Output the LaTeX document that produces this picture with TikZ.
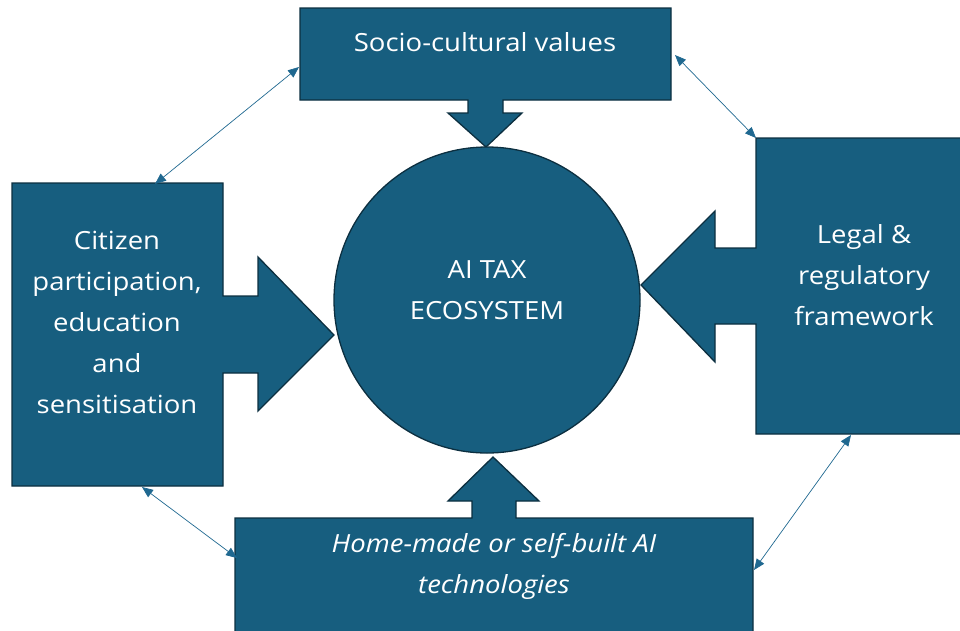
\documentclass[tikz,border=0pt]{standalone}
\usepackage{fontspec}
\setmainfont{Open Sans}[FakeStretch=1.1]
\usetikzlibrary{arrows.meta}
\definecolor{fillblue}{HTML}{175E7F}
\definecolor{edgeblue}{HTML}{0C2F40}
\definecolor{linkblue}{HTML}{1F6890}
\tikzset{
  shapebox/.style={fill=fillblue,draw=edgeblue,line width=1.3pt,line join=miter},
  label/.style={text=white,font=\fontsize{25}{41}\selectfont,align=center,inner sep=0pt},
  link/.style={draw=linkblue,line width=0.7pt,{Triangle[length=11pt,width=9pt]}-{Triangle[length=11pt,width=9pt]}}
}
\begin{document}
\begin{tikzpicture}[x=1pt,y=-1pt]
\useasboundingbox (0,0) rectangle (960,630);
% top shape
\draw[shapebox] (300,8) -- (671,8) -- (671,100) -- (503,100) -- (503,113) -- (522,113) -- (486,147) -- (448,113) -- (468,113) -- (468,100) -- (300,100) -- cycle;
% left shape
\draw[shapebox] (12,183) -- (223,183) -- (223,296) -- (258,296) -- (258,257) -- (334,335) -- (258,411) -- (258,373) -- (223,373) -- (223,486) -- (12,486) -- cycle;
% right shape
\draw[shapebox] (756,138) -- (963,138) -- (963,434) -- (756,434) -- (756,324) -- (715,324) -- (715,362) -- (641,285) -- (715,211) -- (715,248) -- (756,248) -- cycle;
% bottom shape
\draw[shapebox] (235,518) -- (472,518) -- (472,501) -- (448,501) -- (493,457) -- (539,501) -- (516,501) -- (516,518) -- (753,518) -- (753,640) -- (235,640) -- cycle;
% centre circle
\draw[shapebox] (487,300) circle[radius=153];
% texts
\node[label] (top) at (485,42) {Socio-cultural values};
\node[label] (left) at (117,322) {Citizen\\participation,\\education\\and\\sensitisation};
\node[label] (centre) at (487,290) {AI TAX\\ECOSYSTEM};
\node[label] (right) at (864,275) {Legal \&\\regulatory\\framework};
\node[label,font=\fontsize{25}{41}\selectfont\itshape] (bottom) at (494,566) {Home-made or self-built AI\\technologies};
% connector end points
\coordinate (tl1) at (299,67);
\coordinate (tl2) at (155,184);
\coordinate (tr1) at (675,55);
\coordinate (tr2) at (756,138);
\coordinate (bl1) at (142,487);
\coordinate (bl2) at (237,558);
\coordinate (br1) at (851,435);
\coordinate (br2) at (754,570);
\draw[link] (tl1) -- (tl2);
\draw[link] (tr1) -- (tr2);
\draw[link] (bl1) -- (bl2);
\draw[link] (br1) -- (br2);
\end{tikzpicture}
\end{document}
